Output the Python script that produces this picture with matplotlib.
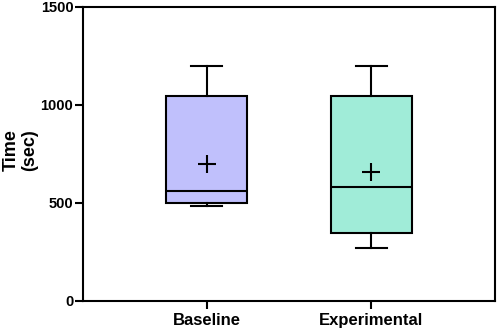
import matplotlib
matplotlib.use("Agg")
import matplotlib.pyplot as plt

categories = ["Baseline", "Experimental"]
whislo = [483, 268]
q1 = [500, 345]
med = [560, 582]
q3 = [1043, 1045]
whishi = [1200, 1200]
mean = [700, 657]
colors = ["#c0c0fc", "#a0ecd8"]

plt.rcParams['font.family'] = ['Liberation Sans', 'DejaVu Sans']
plt.rcParams['font.weight'] = 'bold'

fig = plt.figure(figsize=(4.98, 3.29), dpi=100)
ax = fig.add_axes([0.1667, 0.086, 0.827, 0.8936])

stats = []
for i, c in enumerate(categories):
    stats.append(dict(label=c, whislo=whislo[i], q1=q1[i], med=med[i],
                      q3=q3[i], whishi=whishi[i], mean=mean[i]))

lw = 1.5
bp = ax.bxp(stats, positions=range(len(categories)), widths=0.49,
            patch_artist=True, showmeans=True, showfliers=False,
            boxprops=dict(linewidth=lw, edgecolor='black'),
            medianprops=dict(color='black', linewidth=lw),
            whiskerprops=dict(color='black', linewidth=lw),
            capprops=dict(color='black', linewidth=lw),
            meanprops=dict(marker='+', markeredgecolor='black',
                           markersize=13, markeredgewidth=1.5),
            capwidths=0.19)
for patch, col in zip(bp['boxes'], colors):
    patch.set_facecolor(col)

ax.set_xlim(-0.75, 1.75)
ax.set_ylim(0, 1500)
ax.set_yticks([0, 500, 1000, 1500])
ax.set_xticks(range(len(categories)))
ax.set_xticklabels(categories, fontsize=12, fontweight='bold')
for lbl in ax.get_yticklabels():
    lbl.set_fontsize(10.5)
    lbl.set_fontweight('bold')
ax.tick_params(axis='both', direction='out', width=lw, length=6, color='black')
ax.tick_params(axis='y', pad=1)
ax.tick_params(axis='x', pad=3)
for s in ax.spines.values():
    s.set_linewidth(lw)
    s.set_color('black')

fig.text(0.041, 0.5426, "Time\n(sec)", rotation=90, ha='center', va='center',
         fontsize=13, fontweight='bold', multialignment='center',
         linespacing=1.1)

fig.savefig("out.png", dpi=100)
